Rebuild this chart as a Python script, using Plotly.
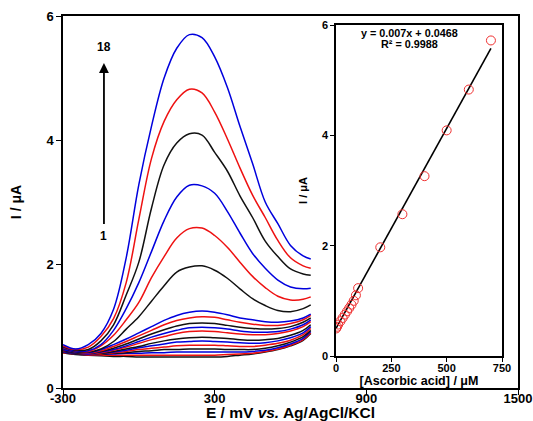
import plotly.graph_objects as go

# ---------------- data ----------------
E_MV = [-300, -250, -200, -150, -100, -50, 0, 50, 100, 150, 200,
        250, 300, 350, 400, 450, 500, 550, 600, 650, 680]

CURVE_01 = [0.57, 0.54, 0.53, 0.52, 0.51, 0.51, 0.50, 0.50, 0.50, 0.50, 0.50, 0.50, 0.50, 0.51, 0.53, 0.55, 0.58, 0.62, 0.68, 0.77, 0.88]
CURVE_02 = [0.57, 0.55, 0.53, 0.53, 0.53, 0.53, 0.53, 0.53, 0.53, 0.53, 0.53, 0.53, 0.53, 0.54, 0.55, 0.56, 0.59, 0.63, 0.69, 0.78, 0.89]
CURVE_03 = [0.58, 0.55, 0.54, 0.54, 0.55, 0.56, 0.56, 0.57, 0.57, 0.58, 0.58, 0.58, 0.58, 0.58, 0.58, 0.59, 0.61, 0.65, 0.71, 0.80, 0.91]
CURVE_04 = [0.58, 0.55, 0.54, 0.54, 0.56, 0.57, 0.59, 0.60, 0.62, 0.62, 0.63, 0.63, 0.63, 0.62, 0.62, 0.62, 0.64, 0.68, 0.74, 0.83, 0.93]
CURVE_05 = [0.59, 0.56, 0.54, 0.55, 0.57, 0.59, 0.62, 0.64, 0.66, 0.68, 0.69, 0.69, 0.69, 0.68, 0.67, 0.67, 0.69, 0.72, 0.77, 0.86, 0.96]
CURVE_06 = [0.59, 0.56, 0.55, 0.56, 0.58, 0.61, 0.65, 0.68, 0.71, 0.74, 0.75, 0.76, 0.75, 0.74, 0.73, 0.72, 0.73, 0.76, 0.81, 0.89, 0.99]
CURVE_07 = [0.60, 0.56, 0.55, 0.56, 0.59, 0.63, 0.67, 0.72, 0.76, 0.79, 0.81, 0.82, 0.81, 0.80, 0.78, 0.77, 0.78, 0.80, 0.85, 0.93, 1.02]
CURVE_08 = [0.60, 0.57, 0.55, 0.57, 0.61, 0.66, 0.72, 0.78, 0.83, 0.88, 0.91, 0.92, 0.91, 0.89, 0.87, 0.86, 0.86, 0.88, 0.92, 0.99, 1.07]
CURVE_09 = [0.61, 0.57, 0.55, 0.58, 0.62, 0.68, 0.75, 0.82, 0.88, 0.93, 0.97, 0.98, 0.97, 0.95, 0.92, 0.90, 0.90, 0.91, 0.95, 1.02, 1.10]
CURVE_10 = [0.61, 0.57, 0.56, 0.59, 0.64, 0.71, 0.79, 0.87, 0.94, 1.00, 1.04, 1.05, 1.04, 1.01, 0.98, 0.96, 0.95, 0.96, 0.99, 1.06, 1.13]
CURVE_11 = [0.62, 0.58, 0.56, 0.60, 0.67, 0.75, 0.84, 0.93, 1.02, 1.09, 1.13, 1.15, 1.14, 1.10, 1.06, 1.03, 1.01, 1.01, 1.04, 1.10, 1.17]
CURVE_12 = [0.62, 0.58, 0.57, 0.62, 0.70, 0.79, 0.89, 0.99, 1.09, 1.17, 1.22, 1.24, 1.22, 1.18, 1.13, 1.10, 1.07, 1.06, 1.08, 1.13, 1.19]
CURVE_13 = [0.64, 0.59, 0.58, 0.63, 0.75, 0.95, 1.15, 1.40, 1.65, 1.87, 1.95, 1.97, 1.90, 1.77, 1.60, 1.44, 1.33, 1.25, 1.23, 1.28, 1.34]
CURVE_14 = [0.65, 0.60, 0.59, 0.68, 0.85, 1.10, 1.38, 1.78, 2.12, 2.42, 2.57, 2.58, 2.46, 2.27, 2.03, 1.80, 1.62, 1.48, 1.42, 1.43, 1.47]
CURVE_15 = [0.66, 0.60, 0.60, 0.70, 0.93, 1.28, 1.70, 2.20, 2.70, 3.08, 3.27, 3.26, 3.14, 2.85, 2.50, 2.17, 1.93, 1.74, 1.63, 1.60, 1.61]
CURVE_16 = [0.67, 0.61, 0.62, 0.76, 1.02, 1.50, 2.03, 2.90, 3.60, 3.95, 4.10, 4.08, 3.80, 3.50, 3.10, 2.75, 2.37, 2.12, 1.92, 1.84, 1.82]
CURVE_17 = [0.68, 0.62, 0.66, 0.83, 1.12, 1.70, 2.72, 3.70, 4.30, 4.65, 4.82, 4.76, 4.45, 4.02, 3.55, 3.11, 2.75, 2.38, 2.10, 1.97, 1.93]
CURVE_18 = [0.70, 0.63, 0.70, 0.88, 1.27, 2.10, 3.28, 4.22, 5.00, 5.48, 5.70, 5.65, 5.34, 4.85, 4.22, 3.62, 3.00, 2.65, 2.30, 2.13, 2.08]

CURVES = [CURVE_01, CURVE_02, CURVE_03, CURVE_04, CURVE_05, CURVE_06,
          CURVE_07, CURVE_08, CURVE_09, CURVE_10, CURVE_11, CURVE_12,
          CURVE_13, CURVE_14, CURVE_15, CURVE_16, CURVE_17, CURVE_18]
CURVE_COLORS = ["#111111", "#EE1111", "#0000DD"] * 6

# calibration (inset)
CONC_UM = [1, 5, 10, 20, 30, 40, 50, 60, 70, 80, 90, 100, 200, 300, 400, 500, 600, 700]
PEAK_UA = [0.50, 0.53, 0.57, 0.63, 0.69, 0.75, 0.81, 0.87, 0.93, 1.00, 1.10, 1.23,
           1.97, 2.57, 3.26, 4.09, 4.83, 5.72]
FIT_SLOPE = 0.00725
FIT_INTERCEPT = 0.50
FIT_X = [0, 700]

MAIN_XTICKS = [-300, 300, 900, 1500]
MAIN_YTICKS = [0, 2, 4, 6]
INSET_XTICKS = [0, 250, 500, 750]
INSET_YTICKS = [0, 2, 4, 6]

FONT = "Liberation Sans, Arial, sans-serif"

fig = go.Figure()

for vals, col in zip(CURVES, CURVE_COLORS):
    fig.add_trace(go.Scatter(
        x=E_MV, y=vals, mode="lines",
        line=dict(color=col, width=1.5, shape="spline", smoothing=1.0),
        xaxis="x", yaxis="y", showlegend=False, hoverinfo="skip"))

fit_y = [FIT_SLOPE * v + FIT_INTERCEPT for v in FIT_X]
fig.add_trace(go.Scatter(
    x=FIT_X, y=fit_y, mode="lines",
    line=dict(color="black", width=1.6),
    xaxis="x2", yaxis="y2", showlegend=False))
fig.add_trace(go.Scatter(
    x=CONC_UM, y=PEAK_UA, mode="markers",
    marker=dict(symbol="circle-open", size=9, color="#F03030", line=dict(width=1)),
    xaxis="x2", yaxis="y2", showlegend=False))

axis_common = dict(showgrid=False, zeroline=False, showline=True,
                   linecolor="black", mirror=True, ticks="outside",
                   tickcolor="black", automargin=False)

fig.update_layout(
    width=533, height=421,
    margin=dict(l=0, r=0, t=0, b=0),
    paper_bgcolor="white", plot_bgcolor="white",
    font=dict(family=FONT, color="black"),
    xaxis=dict(domain=[63/533, 518/533], range=[-300, 1500],
               tickvals=MAIN_XTICKS, ticktext=[f"<b>{v}</b>" for v in MAIN_XTICKS],
               tickfont=dict(size=13), ticklen=5, linewidth=1.5,
               ticklabelstandoff=-7,
               title=dict(text="<b>E / mV <i>vs.</i> Ag/AgCl/KCl</b>",
                          font=dict(size=15.5), standoff=5),
               **axis_common),
    yaxis=dict(domain=[33/421, 405/421], range=[0, 6],
               tickvals=MAIN_YTICKS, ticktext=[f"<b>{v}</b>" for v in MAIN_YTICKS],
               tickfont=dict(size=13), ticklen=5, linewidth=1.5,
               title=dict(text="<b>I / μA</b>", font=dict(size=14), standoff=22),
               **axis_common),
    xaxis2=dict(domain=[336/533, 502/533], range=[0, 750], anchor="y2",
                tickvals=INSET_XTICKS, ticktext=[f"<b>{v}</b>" for v in INSET_XTICKS],
                tickfont=dict(size=11), ticklen=4, linewidth=1.5,
                ticklabelstandoff=-3,
                title=dict(text="<b>[Ascorbic acid] / μM</b>", font=dict(size=12.5), standoff=1),
                **axis_common),
    yaxis2=dict(domain=[65/421, 396/421], range=[0, 6], anchor="x2",
                tickvals=INSET_YTICKS, ticktext=[f"<b>{v}</b>" for v in INSET_YTICKS],
                tickfont=dict(size=11), ticklen=4, linewidth=1.5,
                title=dict(text="<b>I / μA</b>", font=dict(size=11), standoff=12),
                **axis_common),
    annotations=[
        dict(x=-138, y=5.24, ax=-138, ay=2.62, xref="x", yref="y",
             axref="x", ayref="y", text="", showarrow=True,
             arrowhead=2, arrowsize=1.1, arrowwidth=1.8, arrowcolor="black"),
        dict(x=-138, y=5.36, xref="x", yref="y", text="<b>18</b>",
             showarrow=False, font=dict(size=12), yanchor="bottom"),
        dict(x=-138, y=2.45, xref="x", yref="y", text="<b>1</b>",
             showarrow=False, font=dict(size=12)),
        dict(x=334, y=5.86, xref="x2", yref="y2", text="<b>y = 0.007x + 0.0468</b>",
             showarrow=False, font=dict(size=10.8)),
        dict(x=334, y=5.66, xref="x2", yref="y2", text="<b>R² = 0.9988</b>",
             showarrow=False, font=dict(size=10.8)),
    ],
)

fig.write_html("out.html",
               config={"displayModeBar": False},
               post_script="document.body.style.margin='0px';document.body.style.padding='0px';")
